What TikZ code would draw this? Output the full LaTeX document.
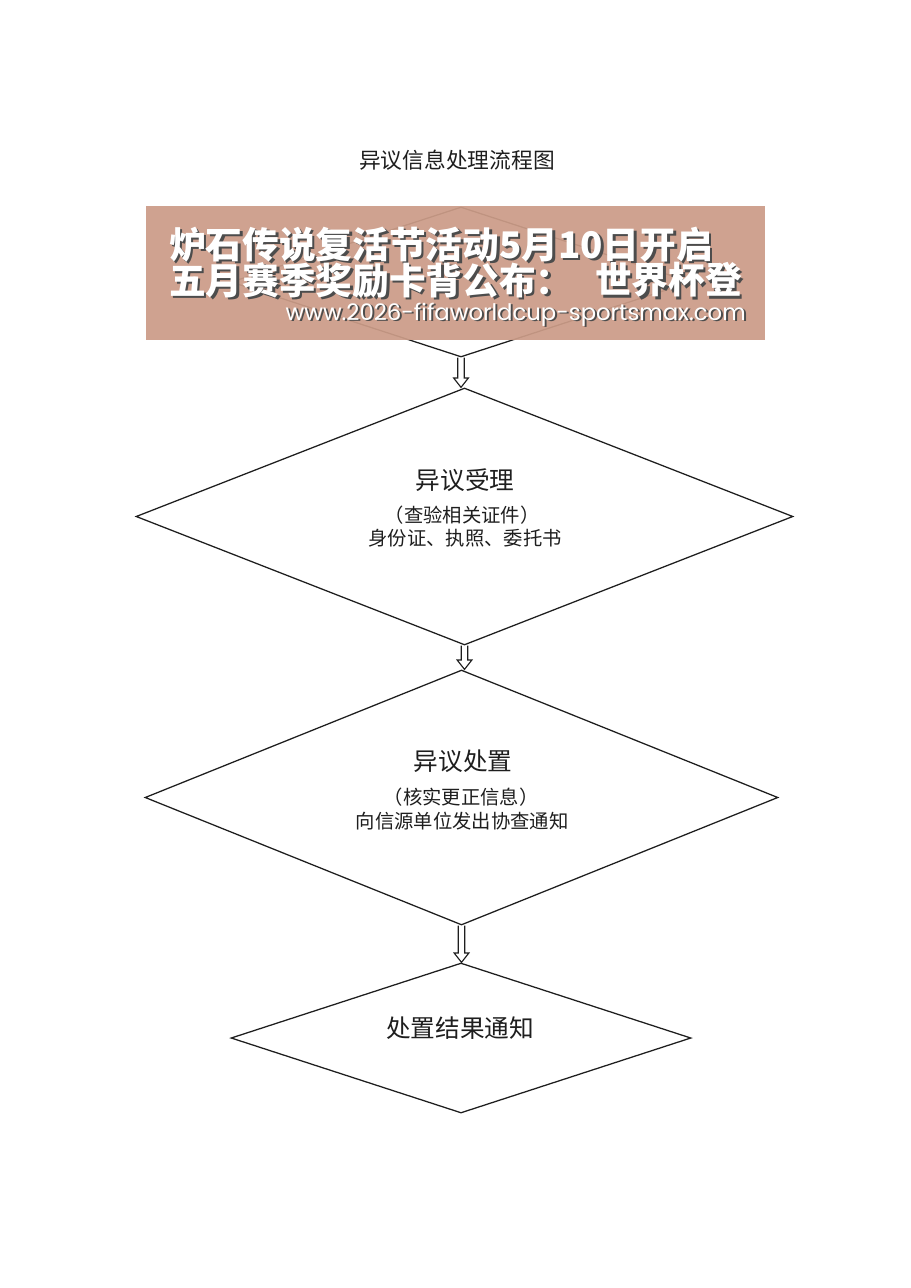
\documentclass[tikz,border=0pt]{standalone}
\usepackage{fontspec}
\usepackage{graphicx}
\newfontfamily\cjk{Noto Sans CJK SC}
\newfontfamily\webfont{Poppins}
\usetikzlibrary{shapes.geometric,calc}
\definecolor{banner}{RGB}{204,156,136}
\definecolor{ink}{RGB}{30,30,30}
\begin{document}
\begin{tikzpicture}[x=0.75pt,y=-0.75pt,
  dia/.style={diamond, draw=ink, line width=0.95pt, inner sep=0pt},
  lbl/.style={font=\cjk\fontsize{18.5pt}{22pt}\selectfont, text=ink, inner sep=0pt},
  sub/.style={font=\cjk\fontsize{14.5pt}{17pt}\selectfont, text=ink, inner sep=0pt},
  conn/.style={draw=ink, line width=0.85pt, line join=miter},
  hollow/.style={to path={let \p1=(\tikztostart), \p2=(\tikztotarget) in
    (\x1-2.4pt,\y1) -- (\x1-2.4pt,\y2+7pt) -- (\x1-5.5pt,\y2+7pt) -- (\x1,\y2)
    -- (\x1+5.5pt,\y2+7pt) -- (\x1+2.4pt,\y2+7pt) -- (\x1+2.4pt,\y1) \tikztonodes}},
  bantext/.style={font=\cjk\bfseries\fontsize{27.5pt}{30pt}\selectfont, inner sep=0pt},
  shadowtext/.style={bantext, text=black!70},
]
\fill[white] (0,0) rectangle (910,1288);
\useasboundingbox (0,0) rectangle (910,1288);

\node[font=\cjk\fontsize{16.3pt}{20pt}\selectfont, text=ink, inner sep=0pt] (title) at (457,160) {异议信息处理流程图};

\node[dia, minimum width=345pt, minimum height=112.5pt] (d1) at (461,282) {};
\node[dia, minimum width=492.75pt, minimum height=192.75pt] (d2) at (464.5,516.5) {};
\node[dia, minimum width=474.75pt, minimum height=191.25pt] (d3) at (461.5,797.5) {};
\node[dia, minimum width=345pt, minimum height=112.5pt] (d4) at (461,1038) {};

\draw[conn] (d1.south) to[hollow] (d2.north);
\draw[conn] (d2.south) to[hollow] (d3.north);
\draw[conn] (d3.south) to[hollow] (d4.north);

\node[lbl] (t2) at (465,480) {异议受理};
\node[sub] (t2a) at (462,515) {（查验相关证件）};
\node[sub] (t2b) at (465,538) {身份证、执照、委托书};

\node[lbl] (t3) at (463,761) {异议处置};
\node[sub] (t3a) at (461,797) {（核实更正信息）};
\node[sub] (t3b) at (462,821) {向信源单位发出协查通知};

\node[lbl] (t4) at (460,1028) {处置结果通知};

% overlay banner
\fill[banner, opacity=0.93] (146,206) rectangle (765,340);
\node[shadowtext, anchor=west] (b1s) at (171.5,247) {炉石传说复活节活动5月10日开启};
\node[bantext, text=white, anchor=west] (b1) at (169,244.5) {炉石传说复活节活动5月10日开启};
\node[shadowtext, anchor=west] (b2s) at (171.5,282.5) {五月赛季奖励卡背公布：};
\node[bantext, text=white, anchor=west] (b2) at (169,280) {五月赛季奖励卡背公布：};
\node[shadowtext, anchor=east] (b3s) at (744.5,282.5) {世界杯登};
\node[bantext, text=white, anchor=east] (b3) at (742,280) {世界杯登};
\node[inner sep=0pt, anchor=base east, text=black!70] (b4s) at (748,321.5) {\resizebox{345pt}{!}{\webfont www.2026-fifaworldcup-sportsmax.com}};
\node[inner sep=0pt, anchor=base east, text=white] (b4) at (746,320) {\resizebox{345pt}{!}{\webfont www.2026-fifaworldcup-sportsmax.com}};
\end{tikzpicture}
\end{document}
